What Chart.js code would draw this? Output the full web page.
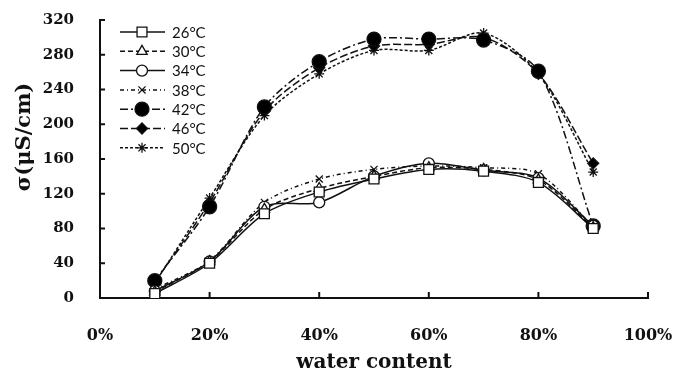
<!DOCTYPE html>
<html>
<head>
<meta charset="utf-8">
<script src="https://cdn.jsdelivr.net/npm/chart.js@4.4.1/dist/chart.umd.min.js"></script>
<style>
  html, body { margin: 0; padding: 0; background: #fff; }
  #wrap { width: 679px; height: 379px; }
</style>
</head>
<body>
<div id="wrap"><canvas id="chart" width="679" height="379"></canvas></div>
<script>
// water content (%) and conductivity at each temperature
const waterContent = [10, 20, 30, 40, 50, 60, 70, 80, 90];
const temps = ['26°C', '30°C', '34°C', '38°C', '42°C', '46°C', '50°C'];
const s26 = [5, 40, 97, 122, 137, 148, 146, 133, 80];
const s30 = [7, 42, 102, 126, 140, 150, 148, 136, 81];
const s34 = [8, 42, 105, 110, 140, 155, 147, 138, 83];
const s38 = [10, 43, 110, 137, 148, 152, 150, 143, 82];
const s42 = [20, 105, 220, 272, 298, 298, 297, 261, 83];
const s46 = [18, 110, 215, 265, 290, 292, 300, 258, 155];
const s50 = [17, 115, 210, 258, 285, 285, 305, 258, 145];
const xTicks = [0, 20, 40, 60, 80, 100];
const yTicks = [0, 40, 80, 120, 160, 200, 240, 280, 320];

const styles = [
  { dash: [], point: 'rect', radius: 7, fill: '#fff' },
  { dash: [5, 3], point: 'triangle', radius: 6, fill: '#fff' },
  { dash: [], point: 'circle', radius: 5.5, fill: '#fff' },
  { dash: [4, 3, 1, 3], point: 'crossRot', radius: 5, fill: '#fff' },
  { dash: [8, 3, 2, 3], point: 'circle', radius: 7, fill: '#000' },
  { dash: [8, 3], point: 'rectRot', radius: 5.5, fill: '#000' },
  { dash: [3, 2], point: 'star', radius: 5, fill: '#fff' }
];
const series = [s26, s30, s34, s38, s42, s46, s50];

const datasets = series.map((vals, i) => ({
  label: temps[i],
  data: vals.map((v, j) => ({ x: waterContent[j], y: v })),
  borderColor: '#111',
  borderWidth: 1.5,
  borderDash: styles[i].dash,
  tension: 0.3,
  pointStyle: styles[i].point,
  pointRadius: styles[i].radius,
  pointBackgroundColor: styles[i].fill,
  pointBorderColor: '#111',
  pointBorderWidth: 1.3
}));

// inward tick marks, y title and the legend box inside the plot
const extras = {
  id: 'extras',
  afterDraw(chart) {
    const ctx = chart.ctx;
    const xs = chart.scales.x, ys = chart.scales.y;
    const area = chart.chartArea;
    ctx.save();
    ctx.strokeStyle = '#111';
    ctx.lineWidth = 2;
    ctx.setLineDash([]);
    yTicks.forEach(v => {
      const y = ys.getPixelForValue(v);
      ctx.beginPath(); ctx.moveTo(area.left, y); ctx.lineTo(area.left + 5, y); ctx.stroke();
    });
    xTicks.forEach(v => {
      const x = xs.getPixelForValue(v);
      ctx.beginPath(); ctx.moveTo(x, area.bottom); ctx.lineTo(x, area.bottom - 6); ctx.stroke();
    });

    // y axis title
    ctx.save();
    ctx.translate(25, 137);
    ctx.rotate(-Math.PI / 2);
    ctx.font = 'bold 21px "DejaVu Serif"';
    ctx.textAlign = 'center';
    ctx.textBaseline = 'middle';
    ctx.fillStyle = '#111';
    ctx.fillText('σ(μS/cm)', 0, 0);
    ctx.restore();

    // legend
    const x0 = 120, x1 = 165, xm = 142, tx = 172;
    ctx.font = '15px Lato';
    ctx.textBaseline = 'middle';
    datasets.forEach((ds, i) => {
      const y = 32 + i * 19.3;
      ctx.lineWidth = 1.5;
      ctx.setLineDash(ds.borderDash);
      ctx.beginPath(); ctx.moveTo(x0, y); ctx.lineTo(x1, y); ctx.stroke();
      ctx.setLineDash([]);
      ctx.fillStyle = ds.pointBackgroundColor;
      ctx.lineWidth = ds.pointBorderWidth;
      Chart.helpers.drawPoint(ctx, { pointStyle: ds.pointStyle, radius: ds.pointRadius, rotation: 0, borderWidth: ds.pointBorderWidth }, xm, y);
      ctx.fillStyle = '#111';
      ctx.fillText(ds.label, tx, y + 1);
    });
    ctx.restore();
  }
};

new Chart(document.getElementById('chart'), {
  type: 'line',
  data: { datasets },
  options: {
    responsive: false,
    animation: false,
    layout: { padding: { top: 20, right: 0, left: 0, bottom: 0 } },
    plugins: { legend: { display: false }, tooltip: { enabled: false } },
    scales: {
      x: {
        type: 'linear',
        min: 0, max: 100,
        afterBuildTicks: s => { s.ticks = xTicks.map(v => ({ value: v })); },
        afterFit: s => { s.height = 81; s.paddingLeft = 0; s.paddingRight = 31; },
        grid: { display: false },
        border: { display: true, color: '#111', width: 2 },
        ticks: {
          padding: 20,
          color: '#111',
          font: { family: 'DejaVu Serif', weight: 'bold', size: 16 },
          callback: v => v + '%',
          maxRotation: 0
        },
        title: {
          display: true,
          text: 'water content',
          color: '#111',
          font: { family: 'DejaVu Serif', weight: 'bold', size: 20 },
          padding: { top: 6 }
        }
      },
      y: {
        min: 0, max: 320,
        afterBuildTicks: s => { s.ticks = yTicks.map(v => ({ value: v })); },
        afterFit: s => { s.width = 100; s.paddingTop = 0; s.paddingBottom = 0; },
        grid: { display: false },
        border: { display: true, color: '#111', width: 2 },
        ticks: {
          padding: 18,
          color: '#111',
          font: { family: 'DejaVu Serif', weight: 'bold', size: 15 }
        }
      }
    }
  },
  plugins: [extras]
});
</script>
</body>
</html>
